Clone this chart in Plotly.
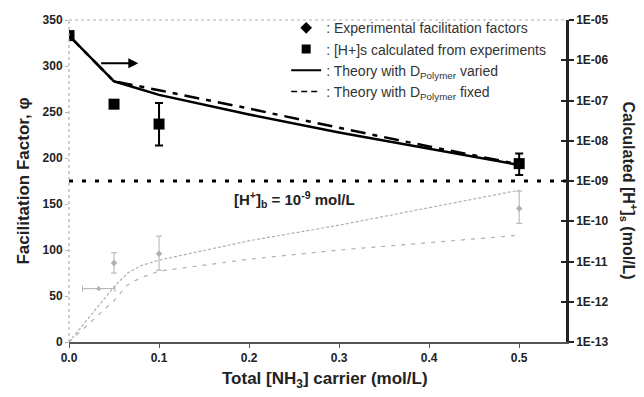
import plotly.graph_objects as go

# ---- data ----
# [H+]s calculated from experiments (right axis, mol/L)
x_sq = [0.0, 0.05, 0.1, 0.5]
h_sq = [4.1e-6, 8.1e-8, 2.6e-8, 2.7e-9]
h_sq_err_plus = [0, 0, 6.1e-8, 2.1e-9]
h_sq_err_minus = [0, 0, 1.84e-8, 1.3e-9]

# Theory curves (right axis, mol/L)
x_th = [0.0, 0.025, 0.05, 0.1, 0.2, 0.3, 0.4, 0.5]
h_varied = [4.1e-6, 1.12e-6, 3.0e-7, 1.38e-7, 4.5e-8, 1.6e-8, 6.3e-9, 2.5e-9]
h_fixed = [4.1e-6, 1.12e-6, 3.0e-7, 1.8e-7, 6.3e-8, 2.1e-8, 7.2e-9, 2.6e-9]

# Facilitation factor theory (left axis, grey)
x_g = [0.0, 0.025, 0.05, 0.065, 0.08, 0.1, 0.2, 0.3, 0.4, 0.5]
ff_upper = [0, 30, 60, 75, 83, 89, 110, 127, 146, 165]
ff_lower = [0, 22, 45, 62, 70, 77, 90, 100, 108, 116]

# Experimental facilitation factors (left axis, grey)
x_ff = [0.05, 0.1, 0.5]
ff = [86, 96, 145]
ff_err_plus = [11, 19, 19]
ff_err_minus = [11, 18, 16]
x_ff0 = [0.033]
ff0 = [58]
ff0_xerr = [0.018]

h_bulk = 175  # left-axis level of [H+]b = 1E-09

x_ticks = [0.0, 0.1, 0.2, 0.3, 0.4, 0.5]
x_ticklabels = ["0.0", "0.1", "0.2", "0.3", "0.4", "0.5"]
y_ticks = [0, 50, 100, 150, 200, 250, 300, 350]
r_ticks = [1e-13, 1e-12, 1e-11, 1e-10, 1e-9, 1e-8, 1e-7, 1e-6, 1e-5]
r_ticklabels = ["1E-13", "1E-12", "1E-11", "1E-10", "1E-09", "1E-08", "1E-07", "1E-06", "1E-05"]

FONT = "Arial, Liberation Sans, sans-serif"
TXT = "#222222"
GREY = "#b0b0b0"

fig = go.Figure()

# grey facilitation-factor curves
fig.add_trace(go.Scatter(x=x_g, y=ff_upper, mode="lines", yaxis="y",
                         line=dict(color=GREY, width=1.2, dash="3px,2px"), showlegend=False))
fig.add_trace(go.Scatter(x=x_g, y=ff_lower, mode="lines", yaxis="y",
                         line=dict(color=GREY, width=1.2, dash="4px,6px"), showlegend=False))
fig.add_trace(go.Scatter(x=x_ff, y=ff, mode="markers", yaxis="y",
                         marker=dict(symbol="diamond", size=5, color=GREY),
                         error_y=dict(type="data", array=ff_err_plus, arrayminus=ff_err_minus,
                                      color=GREY, thickness=1, width=3),
                         showlegend=False))
fig.add_trace(go.Scatter(x=x_ff0, y=ff0, mode="markers", yaxis="y",
                         marker=dict(symbol="diamond", size=4, color=GREY),
                         error_x=dict(type="data", array=ff0_xerr, color=GREY, thickness=1, width=3),
                         showlegend=False))

# theory lines (right axis)
fig.add_trace(go.Scatter(x=x_th, y=h_fixed, mode="lines", yaxis="y2",
                         line=dict(color="black", width=2.5, dash="15px,7px,5px,7px"),
                         showlegend=False))
fig.add_trace(go.Scatter(x=x_th, y=h_varied, mode="lines", yaxis="y2",
                         line=dict(color="black", width=2.5), showlegend=False))
# squares
fig.add_trace(go.Scatter(x=x_sq, y=h_sq, mode="markers", yaxis="y2",
                         marker=dict(symbol="square", size=11, color="black"),
                         error_y=dict(type="data", array=h_sq_err_plus, arrayminus=h_sq_err_minus,
                                      color="black", thickness=2, width=4),
                         showlegend=False))

# legend-only entries
fig.add_trace(go.Scatter(x=[None], y=[None], mode="markers", yaxis="y",
                         marker=dict(symbol="diamond", size=9, color="black"),
                         name=": Experimental facilitation factors"))
fig.add_trace(go.Scatter(x=[None], y=[None], mode="markers", yaxis="y",
                         marker=dict(symbol="square", size=9, color="black"),
                         name=": [H+]s calculated from experiments"))
fig.add_trace(go.Scatter(x=[None], y=[None], mode="lines", yaxis="y",
                         line=dict(color="black", width=2),
                         name=": Theory with D<sub>Polymer</sub> varied"))
fig.add_trace(go.Scatter(x=[None], y=[None], mode="lines", yaxis="y",
                         line=dict(color="black", width=1.5, dash="6px,4px"),
                         name=": Theory with D<sub>Polymer</sub> fixed"))

# bulk [H+] dotted line
fig.add_shape(type="line", xref="paper", yref="y", x0=0, x1=1, y0=h_bulk, y1=h_bulk,
              line=dict(color="black", width=3, dash="4px,9px"))
# left axis and top border as grey dotted lines
fig.add_shape(type="line", xref="paper", yref="paper", x0=0, x1=0, y0=0, y1=1,
              line=dict(color=GREY, width=1.2, dash="dot"))
fig.add_shape(type="line", xref="paper", yref="paper", x0=0, x1=1, y0=1, y1=1,
              line=dict(color=GREY, width=1.2, dash="dot"))

# arrow
fig.add_annotation(x=0.077, y=303, ax=0.034, ay=303, xref="x", yref="y", axref="x", ayref="y",
                   showarrow=True, arrowhead=2, arrowsize=1, arrowwidth=2, arrowcolor="black", text="")
# bulk label
fig.add_annotation(x=0.32, y=155, xref="x", yref="y", xanchor="right", yanchor="middle",
                   showarrow=False,
                   text="[H<sup>+</sup>]<sub>b</sub> = 10<sup>-9</sup> mol/L",
                   font=dict(family=FONT, size=15, color=TXT, weight="bold"))
# right axis title
fig.add_annotation(x=1.127, y=0.47, xref="paper", yref="paper", textangle=90,
                   showarrow=False, xanchor="center", yanchor="middle",
                   text="Calculated [H<sup>+</sup>]<sub>s</sub> (mol/L)",
                   font=dict(family=FONT, size=16, color=TXT, weight="bold"))
# x axis title
fig.add_annotation(x=0.515, y=-0.117, xref="paper", yref="paper",
                   showarrow=False, xanchor="center", yanchor="middle",
                   text="Total [NH<sub>3</sub>] carrier (mol/L)",
                   font=dict(family=FONT, size=17, color=TXT, weight="bold"))

tickfont = dict(family=FONT, size=12, color=TXT, weight="bold")

fig.update_layout(
    width=644, height=397,
    margin=dict(l=69, r=78, t=17, b=55),
    paper_bgcolor="white", plot_bgcolor="white",
    font=dict(family=FONT, color=TXT),
    xaxis=dict(range=[0, 0.552], tickvals=x_ticks, ticktext=x_ticklabels,
               showgrid=False, zeroline=False, showline=True, linecolor="#555", linewidth=1.5,
               ticks="outside", ticklen=4, tickcolor="#555", tickfont=tickfont),
    yaxis=dict(range=[0, 350], tickvals=y_ticks, showgrid=False, zeroline=False, showline=False,
               ticks="outside", ticklen=3, tickcolor=GREY, tickfont=tickfont,
               title=dict(text="Facilitation Factor, φ", standoff=8,
                          font=dict(family=FONT, size=17, color=TXT, weight="bold"))),
    yaxis2=dict(type="log", range=[-13, -5], overlaying="y", side="right", anchor="x",
                tickvals=r_ticks, ticktext=r_ticklabels, showgrid=False, zeroline=False,
                showline=True, linecolor="#222", linewidth=2.5,
                ticks="outside", ticklen=5, tickwidth=2, tickcolor="#222", tickfont=tickfont),
    yaxis3=dict(type="log", range=[-13, -5], overlaying="y", side="right", anchor="x",
                tickvals=r_ticks, showticklabels=False, showgrid=False, zeroline=False,
                showline=False, ticks="inside", ticklen=5, tickwidth=2, tickcolor="#222"),
    legend=dict(x=0.437, y=1.024, xanchor="left", yanchor="top", bgcolor="rgba(0,0,0,0)",
                font=dict(family=FONT, size=14, color="#333"), itemwidth=30,
                tracegroupgap=0),
)
# dummy trace to activate yaxis3
fig.add_trace(go.Scatter(x=[None], y=[None], yaxis="y3", showlegend=False))

fig.write_html("out.html")
